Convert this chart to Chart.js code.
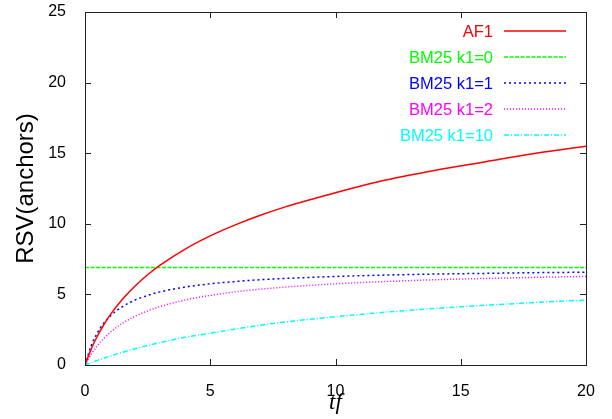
<!DOCTYPE html>
<html>
<head>
<meta charset="utf-8">
<script src="https://cdn.jsdelivr.net/npm/chart.js@4/dist/chart.umd.min.js"></script>
<style>
  html, body { margin: 0; padding: 0; background: #fff; }
  #wrap { width: 612px; height: 419px; }
</style>
</head>
<body>
<div id="wrap"><canvas id="rsvChart"></canvas></div>
<script>
// values
var tfValues = [0, 0.25, 0.5, 0.75, 1, 1.5, 2, 2.5, 3, 4, 5, 6, 7, 8, 10, 12, 14, 16, 18, 20];
var af1     = [0, 1.14, 2.07, 2.85, 3.53, 4.67, 5.60, 6.39, 7.07, 8.21, 9.14, 9.92, 10.6, 11.2, 12.2, 13.1, 13.8, 14.4, 15.0, 15.5];
var bm25k0  = [6.9, 6.9, 6.9, 6.9, 6.9, 6.9, 6.9, 6.9, 6.9, 6.9, 6.9, 6.9, 6.9, 6.9, 6.9, 6.9, 6.9, 6.9, 6.9, 6.9];
var bm25k1  = [0, 1.38, 2.30, 2.96, 3.45, 4.14, 4.60, 4.93, 5.18, 5.52, 5.75, 5.91, 6.04, 6.13, 6.27, 6.37, 6.44, 6.49, 6.54, 6.57];
var bm25k2  = [0, 0.77, 1.38, 1.88, 2.30, 2.96, 3.45, 3.83, 4.14, 4.60, 4.93, 5.18, 5.37, 5.52, 5.75, 5.91, 6.04, 6.13, 6.21, 6.27];
var bm25k10 = [0, 0.17, 0.33, 0.48, 0.63, 0.90, 1.15, 1.38, 1.59, 1.97, 2.25, 2.55, 2.82, 3.05, 3.42, 3.74, 4.01, 4.23, 4.43, 4.60];

var xTicks = [0, 5, 10, 15, 20];
var yTicks = [0, 5, 10, 15, 20, 25];

function pts(ys) {
  return tfValues.map(function (x, i) { return { x: x, y: ys[i] }; });
}

function series(label, ys, color, dash) {
  return {
    label: label,
    data: pts(ys),
    borderColor: color,
    backgroundColor: color,
    borderWidth: 1.5,
    borderDash: dash,
    pointRadius: 0,
    cubicInterpolationMode: 'monotone',
    fill: false
  };
}

var data = {
  datasets: [
    series('AF1', af1, '#ff0000', []),
    series('BM25 k1=0', bm25k0, '#00ff00', [4, 1.5]),
    series('BM25 k1=1', bm25k1, '#0000ff', [2, 3]),
    series('BM25 k1=2', bm25k2, '#ff00ff', [1, 2]),
    series('BM25 k1=10', bm25k10, '#00ffff', [5, 2, 1, 2])
  ]
};

// gnuplot-like frame with inward ticks on all four sides
var framePlugin = {
  id: 'frame',
  afterDatasetsDraw: function (chart) {
    var c = chart.ctx, a = chart.chartArea;
    var xs = chart.scales.x, ys = chart.scales.y;
    c.save();
    c.strokeStyle = '#222';
    c.lineWidth = 1;
    c.setLineDash([]);
    c.strokeRect(Math.round(a.left) + 0.5, Math.round(a.top) + 0.5, Math.round(a.right - a.left), Math.round(a.bottom - a.top));
    c.beginPath();
    xTicks.forEach(function (v) {
      var px = Math.round(xs.getPixelForValue(v)) + 0.5;
      c.moveTo(px, a.bottom); c.lineTo(px, a.bottom - 6);
      c.moveTo(px, a.top); c.lineTo(px, a.top + 6);
    });
    yTicks.forEach(function (v) {
      var py = Math.round(ys.getPixelForValue(v)) + 0.5;
      c.moveTo(a.left, py); c.lineTo(a.left + 6, py);
      c.moveTo(a.right, py); c.lineTo(a.right - 6, py);
    });
    c.stroke();

    // key in the top right corner, text before the sample line
    c.font = '16.5px "Liberation Sans", Arial, sans-serif';
    c.textAlign = 'right';
    c.textBaseline = 'middle';
    chart.data.datasets.forEach(function (ds, i) {
      var y = 31 + i * 26;
      c.fillStyle = ds.borderColor;
      c.fillText(ds.label, 493, y + 1);
      c.strokeStyle = ds.borderColor;
      c.lineWidth = 1.5;
      c.setLineDash(ds.borderDash);
      c.beginPath();
      c.moveTo(504, Math.round(y));
      c.lineTo(566, Math.round(y));
      c.stroke();
    });
    c.restore();
  }
};

var tickFont = { family: '"Liberation Sans", Arial, sans-serif', size: 16 };

var config = {
  type: 'line',
  data: data,
  options: {
    responsive: false,
    animation: false,
    layout: { padding: { left: 0, top: 12, right: 26, bottom: 0 } },
    plugins: {
      legend: { display: false },
      tooltip: { enabled: false }
    },
    scales: {
      x: {
        type: 'linear',
        min: 0,
        max: 20,
        grid: { display: false },
        border: { display: false },
        afterFit: function (s) { s.height = 54; s.paddingRight = 0; s.paddingLeft = 0; },
        afterBuildTicks: function (s) { s.ticks = xTicks.map(function (v) { return { value: v }; }); },
        ticks: { color: '#000', font: tickFont, padding: 9, maxRotation: 0 },
        title: {
          display: true,
          text: 'tf',
          color: '#000',
          font: { family: '"Liberation Serif", "DejaVu Serif", serif', size: 23, style: 'italic' },
          padding: { top: 0, bottom: 2 }
        }
      },
      y: {
        min: 0,
        max: 25,
        grid: { display: false },
        border: { display: false },
        afterFit: function (s) { s.width = 85; s.paddingTop = 0; s.paddingBottom = 0; },
        afterBuildTicks: function (s) { s.ticks = yTicks.map(function (v) { return { value: v }; }); },
        ticks: { color: '#000', font: tickFont, padding: 11 },
        title: {
          display: true,
          text: 'RSV(anchors)',
          color: '#000',
          font: { family: '"Liberation Sans", Arial, sans-serif', size: 24 },
          padding: { top: 12, bottom: 0 }
        }
      }
    }
  },
  plugins: [framePlugin]
};

var ctx = document.getElementById('rsvChart');
ctx.width = 612;
ctx.height = 419;
var rsvChart = new Chart(ctx, config);
</script>
</body>
</html>
